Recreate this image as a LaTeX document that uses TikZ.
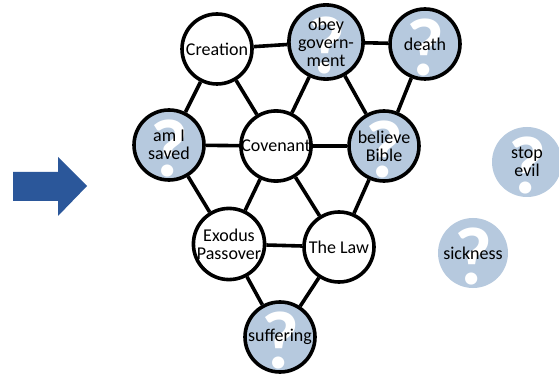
\documentclass[tikz,border=0pt]{standalone}
\usepackage{fontspec}
\setmainfont{Carlito}
\definecolor{qblue}{RGB}{182,201,222}
\definecolor{arrowblue}{RGB}{43,87,154}
\tikzset{
  x=1pt,y=1pt,
  topic/.style={circle,draw=black,line width=3.6pt,fill=white,minimum size=70pt,inner sep=0pt,
    align=center,font=\fontsize{18}{18}\selectfont},
  qtopic/.style={topic,fill=qblue,
    path picture={\node[text=white,font=\fontsize{82}{82}\selectfont\bfseries] at ([yshift=-3pt]path picture bounding box.center) {?};}},
  qfree/.style={qtopic,draw=none},
  link/.style={line width=3.6pt,black}
}
\begin{document}
\begin{tikzpicture}
\useasboundingbox (0,0) rectangle (559,375);
\fill[white] (0,0) rectangle (559,375);
% arrow
\fill[arrowblue] (13,203) -- (58,203) -- (58,218) -- (87,189) -- (58,159) -- (58,174) -- (13,174) -- cycle;
% nodes
\node[topic]  (cre) at (217,326) {Creation};
\node[qtopic] (obey) at (326,333) {obey\\govern-\\ment};
\node[qtopic] (death) at (425,331) {death};
\node[qtopic] (saved) at (169,230) {am I\\saved};
\node[topic]  (cov) at (276,229) {Covenant};
\node[qtopic] (bib) at (384,229) {believe\\Bible};
\node[topic]  (exo) at (229,131) {Exodus\\Passover};
\node[topic]  (law) at (339,128) {The Law};
\node[qtopic] (suf) at (280,38) {suffering};
\node[qfree]  (evil) at (527,213) {stop\\evil};
\node[qfree]  (sick) at (473,122) {sickness};
% links
\foreach \a/\b in {cre/obey,obey/death,cre/saved,cre/cov,obey/cov,obey/bib,death/bib,saved/cov,cov/bib,saved/exo,cov/exo,cov/law,bib/law,exo/law,exo/suf,law/suf}
  \draw[link] (\a) -- (\b);
\end{tikzpicture}
\end{document}
